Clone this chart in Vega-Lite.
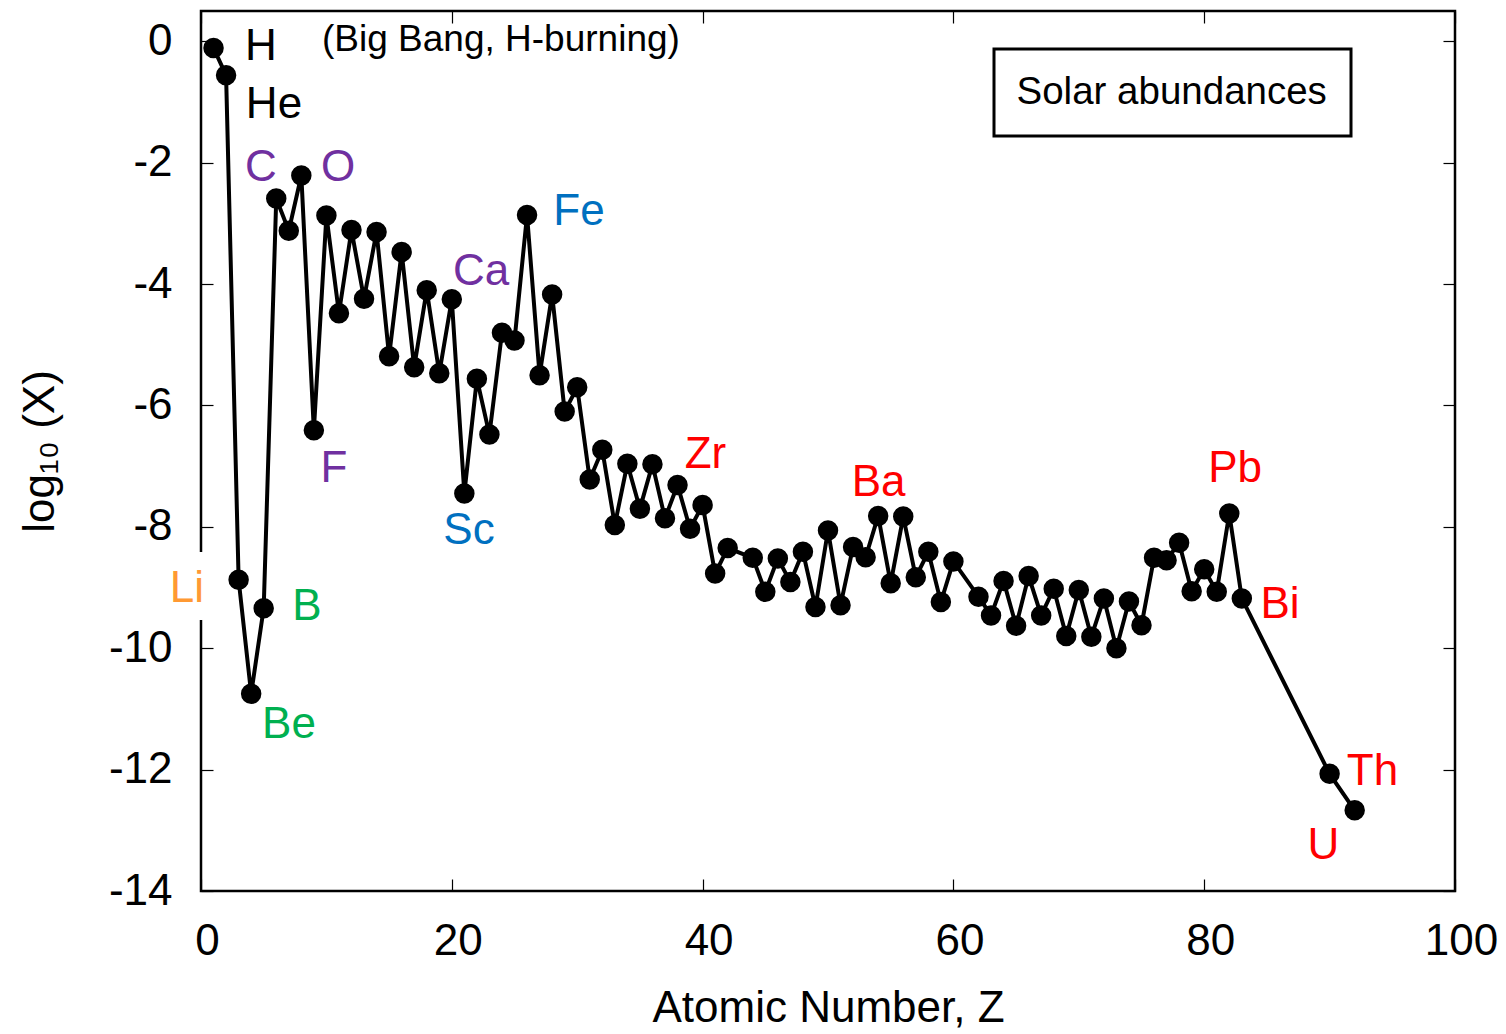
{
  "$schema": "https://vega.github.io/schema/vega-lite/v6.json",
  "width": 1254,
  "height": 880,
  "autosize": {"type": "none"},
  "padding": {"left": 201, "top": 11, "right": 51, "bottom": 143},
  "background": "white",
  "config": {
    "font": "Liberation Sans",
    "view": {"stroke": "black", "strokeWidth": 2.5}
  },
  "datasets": {
    "abund": [
      {"Z": 1, "logX": -0.11}, {"Z": 2, "logX": -0.56}, {"Z": 3, "logX": -8.87}, {"Z": 4, "logX": -10.75},
      {"Z": 5, "logX": -9.34}, {"Z": 6, "logX": -2.59}, {"Z": 7, "logX": -3.12}, {"Z": 8, "logX": -2.21},
      {"Z": 9, "logX": -6.41}, {"Z": 10, "logX": -2.87}, {"Z": 11, "logX": -4.48}, {"Z": 12, "logX": -3.11},
      {"Z": 13, "logX": -4.24}, {"Z": 14, "logX": -3.14}, {"Z": 15, "logX": -5.19}, {"Z": 16, "logX": -3.47},
      {"Z": 17, "logX": -5.37}, {"Z": 18, "logX": -4.10}, {"Z": 19, "logX": -5.47}, {"Z": 20, "logX": -4.25},
      {"Z": 21, "logX": -7.45}, {"Z": 22, "logX": -5.56}, {"Z": 23, "logX": -6.48}, {"Z": 24, "logX": -4.80},
      {"Z": 25, "logX": -4.93}, {"Z": 26, "logX": -2.86}, {"Z": 27, "logX": -5.50}, {"Z": 28, "logX": -4.17},
      {"Z": 29, "logX": -6.10}, {"Z": 30, "logX": -5.70}, {"Z": 31, "logX": -7.22}, {"Z": 32, "logX": -6.73},
      {"Z": 33, "logX": -7.97}, {"Z": 34, "logX": -6.96}, {"Z": 35, "logX": -7.70}, {"Z": 36, "logX": -6.97},
      {"Z": 37, "logX": -7.86}, {"Z": 38, "logX": -7.31}, {"Z": 39, "logX": -8.03}, {"Z": 40, "logX": -7.64},
      {"Z": 41, "logX": -8.77}, {"Z": 42, "logX": -8.35}, {"Z": 44, "logX": -8.51}, {"Z": 45, "logX": -9.07},
      {"Z": 46, "logX": -8.52}, {"Z": 47, "logX": -8.91}, {"Z": 48, "logX": -8.41}, {"Z": 49, "logX": -9.32},
      {"Z": 50, "logX": -8.06}, {"Z": 51, "logX": -9.29}, {"Z": 52, "logX": -8.33}, {"Z": 53, "logX": -8.50},
      {"Z": 54, "logX": -7.82}, {"Z": 55, "logX": -8.93}, {"Z": 56, "logX": -7.83}, {"Z": 57, "logX": -8.83},
      {"Z": 58, "logX": -8.41}, {"Z": 59, "logX": -9.24}, {"Z": 60, "logX": -8.57}, {"Z": 62, "logX": -9.15},
      {"Z": 63, "logX": -9.46}, {"Z": 64, "logX": -8.89}, {"Z": 65, "logX": -9.63}, {"Z": 66, "logX": -8.81},
      {"Z": 67, "logX": -9.46}, {"Z": 68, "logX": -9.02}, {"Z": 69, "logX": -9.80}, {"Z": 70, "logX": -9.04},
      {"Z": 71, "logX": -9.81}, {"Z": 72, "logX": -9.18}, {"Z": 73, "logX": -10.0}, {"Z": 74, "logX": -9.23},
      {"Z": 75, "logX": -9.62}, {"Z": 76, "logX": -8.51}, {"Z": 77, "logX": -8.55}, {"Z": 78, "logX": -8.26},
      {"Z": 79, "logX": -9.06}, {"Z": 80, "logX": -8.70}, {"Z": 81, "logX": -9.07}, {"Z": 82, "logX": -7.78},
      {"Z": 83, "logX": -9.18}, {"Z": 90, "logX": -12.07}, {"Z": 92, "logX": -12.67}
    ],
    "labels": [
      {"label": "H", "x": 4.78, "y": -0.10, "group": "primordial"},
      {"label": "He", "x": 5.82, "y": -1.05, "group": "primordial"},
      {"label": "C", "x": 4.78, "y": -2.09, "group": "alpha"},
      {"label": "O", "x": 10.93, "y": -2.09, "group": "alpha"},
      {"label": "F", "x": 10.61, "y": -7.04, "group": "alpha"},
      {"label": "Ca", "x": 22.33, "y": -3.80, "group": "alpha"},
      {"label": "Fe", "x": 30.14, "y": -2.82, "group": "iron"},
      {"label": "Sc", "x": 21.37, "y": -8.06, "group": "iron"},
      {"label": "Li", "x": -1.12, "y": -9.03, "group": "lithium"},
      {"label": "B", "x": 8.45, "y": -9.32, "group": "spallation"},
      {"label": "Be", "x": 7.02, "y": -11.26, "group": "spallation"},
      {"label": "Zr", "x": 40.23, "y": -6.81, "group": "ncapture"},
      {"label": "Ba", "x": 54.03, "y": -7.28, "group": "ncapture"},
      {"label": "Pb", "x": 82.46, "y": -7.05, "group": "ncapture"},
      {"label": "Bi", "x": 86.04, "y": -9.28, "group": "ncapture"},
      {"label": "Th", "x": 93.42, "y": -12.04, "group": "ncapture"},
      {"label": "U", "x": 89.51, "y": -13.26, "group": "ncapture"}
    ],
    "note": [
      {"text": "(Big Bang, H-burning)", "x": 9.65, "y": 0.015}
    ]
  },
  "layer": [
    {
      "data": {"name": "abund"},
      "mark": {"type": "line", "strokeWidth": 4},
      "encoding": {
        "x": {
          "field": "Z", "type": "quantitative",
          "scale": {"domain": [0, 100], "nice": false, "zero": false},
          "axis": {
            "orient": "bottom", "values": [0, 20, 40, 60, 80, 100],
            "domain": false, "grid": false,
            "tickSize": -12, "tickColor": "black", "tickWidth": 1.2,
            "labelFontSize": 44, "labelColor": "black", "labelPadding": 40,
            "labelOffset": 6, "labelFlush": false, "labelOverlap": false,
            "title": "Atomic Number, Z", "titleFontSize": 44, "titleFontWeight": "normal",
            "titleColor": "black", "titleBaseline": "alphabetic", "titleY": 130
          }
        },
        "y": {
          "field": "logX", "type": "quantitative",
          "scale": {"domain": [-14, 0.5], "nice": false, "zero": false},
          "axis": {
            "orient": "left", "values": [-14, -12, -10, -8, -6, -4, -2, 0],
            "labelExpr": "toString(datum.value)",
            "domain": false, "grid": false,
            "tickSize": -12, "tickColor": "black", "tickWidth": 1.2,
            "labelFontSize": 44, "labelColor": "black", "labelPadding": 41,
            "labelOverlap": false, "labelFlush": false,
            "title": "log₁₀ (X)", "titleFontSize": 44, "titleFontWeight": "normal",
            "titleColor": "black", "titleAngle": -90, "titleBaseline": "alphabetic",
            "titleAlign": "center", "titleX": -148, "titleY": 440
          }
        },
        "color": {
          "datum": "Solar abundances", "type": "nominal",
          "scale": {"range": ["black"]},
          "legend": {
            "orient": "none", "legendX": 793, "legendY": 38, "title": null,
            "symbolSize": 0, "symbolStrokeWidth": 0, "symbolOpacity": 0,
            "labelFontSize": 38.5, "labelColor": "black", "labelOffset": -40,
            "labelLimit": 600,
            "strokeColor": "black", "fillColor": "white",
            "padding": 24,
            "encode": {"legend": {"update": {"strokeWidth": {"value": 3}}}}
          }
        }
      }
    },
    {
      "data": {"name": "abund"},
      "mark": {"type": "point", "filled": true, "size": 420, "color": "black", "opacity": 1},
      "encoding": {
        "x": {"field": "Z", "type": "quantitative", "axis": null},
        "y": {"field": "logX", "type": "quantitative", "axis": null}
      }
    },
    {
      "data": {"name": "abund"},
      "mark": {"type": "point", "opacity": 0},
      "encoding": {
        "x": {
          "field": "Z", "type": "quantitative",
          "axis": {
            "orient": "top", "values": [0, 20, 40, 60, 80, 100],
            "labels": false, "domain": false, "grid": false, "title": null,
            "tickSize": -12, "tickColor": "black", "tickWidth": 1.2
          }
        },
        "y": {
          "field": "logX", "type": "quantitative",
          "axis": {
            "orient": "right", "values": [-14, -12, -10, -8, -6, -4, -2, 0],
            "labels": false, "domain": false, "grid": false, "title": null,
            "tickSize": -12, "tickColor": "black", "tickWidth": 1.2
          }
        }
      }
    },
    {
      "data": {"name": "labels"},
      "transform": [{"filter": "datum.group === 'lithium'"}],
      "mark": {"type": "text", "fontSize": 44, "align": "center", "baseline": "middle",
               "color": "white", "stroke": "white", "strokeWidth": 36, "strokeJoin": "round"},
      "encoding": {
        "x": {"field": "x", "type": "quantitative", "axis": null},
        "y": {"field": "y", "type": "quantitative", "axis": null},
        "text": {"field": "label"}
      }
    },
    {
      "data": {"name": "labels"},
      "mark": {"type": "text", "fontSize": 44, "align": "center", "baseline": "middle"},
      "encoding": {
        "x": {"field": "x", "type": "quantitative", "axis": null},
        "y": {"field": "y", "type": "quantitative", "axis": null},
        "text": {"field": "label"},
        "color": {
          "field": "group", "type": "nominal", "legend": null,
          "scale": {
            "domain": ["primordial", "lithium", "spallation", "alpha", "iron", "ncapture"],
            "range": ["#000000", "#FF9933", "#00B050", "#7030A0", "#0070C0", "#FF0000"]
          }
        }
      }
    },
    {
      "data": {"name": "note"},
      "mark": {"type": "text", "fontSize": 37, "align": "left", "baseline": "middle", "color": "black"},
      "encoding": {
        "x": {"field": "x", "type": "quantitative", "axis": null},
        "y": {"field": "y", "type": "quantitative", "axis": null},
        "text": {"field": "text"}
      }
    }
  ],
  "resolve": {
    "axis": {"x": "independent", "y": "independent"},
    "scale": {"color": "independent"}
  }
}
